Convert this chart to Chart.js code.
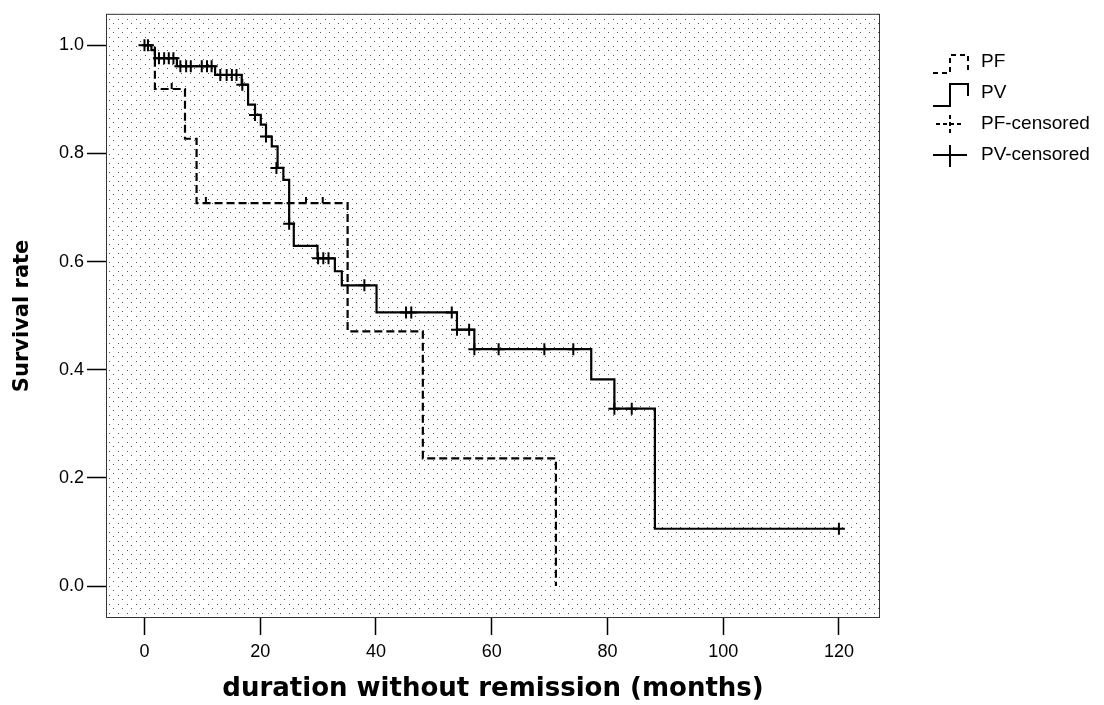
<!DOCTYPE html>
<html>
<head>
<meta charset="utf-8">
<script src="https://cdn.jsdelivr.net/npm/chart.js@4.4.1/dist/chart.umd.min.js"></script>
<style>
  html, body { margin: 0; padding: 0; background: #ffffff; }
  #wrap { width: 1104px; height: 705px; position: relative; }
  canvas { display: block; }
</style>
</head>
<body>
<div id="wrap"><canvas id="c" width="1104" height="705"></canvas></div>
<script>
// ---- data ----
const pvTimes = [0, 1.2, 1.8, 5.6, 12.2, 16.8, 17.9, 19.1, 20.1, 21.0, 22.0, 23.0, 24.0, 25.0, 25.8, 29.9, 32.9, 34.1, 40.1, 54.0, 57.0, 77.2, 81.2, 88.2, 120.0];
const pvSurv  = [1.0, 0.991, 0.976, 0.961, 0.945, 0.927, 0.890, 0.871, 0.853, 0.831, 0.813, 0.773, 0.751, 0.670, 0.629, 0.606, 0.582, 0.556, 0.506, 0.474, 0.438, 0.382, 0.328, 0.106, 0.106];

const pfTimes = [0, 1.8, 7.0, 9.0, 35.1, 48.1, 71.1];
const pfSurv  = [1.0, 0.919, 0.827, 0.708, 0.471, 0.236, 0.0];

const pvCensorTimes = [0, 0.6, 2.5, 3.4, 4.2, 5.0, 6.2, 7.2, 8.0, 9.9, 10.8, 11.6, 13.1, 14.2, 15.1, 15.9, 16.9, 19.1, 21.0, 22.8, 25.0, 30.0, 30.9, 31.8, 38.0, 45.2, 46.1, 53.1, 54.0, 56.1, 57.0, 61.2, 69.1, 74.1, 81.2, 84.2, 120.0];
const pvCensorSurv  = [1.0, 1.0, 0.976, 0.976, 0.976, 0.976, 0.961, 0.961, 0.961, 0.961, 0.961, 0.961, 0.945, 0.945, 0.945, 0.945, 0.927, 0.871, 0.831, 0.773, 0.670, 0.606, 0.606, 0.606, 0.556, 0.506, 0.506, 0.506, 0.474, 0.474, 0.438, 0.438, 0.438, 0.438, 0.328, 0.328, 0.106];

const pfCensorTimes = [4.7, 10.6, 27.9, 30.8];
const pfCensorSurv  = [0.919, 0.708, 0.708, 0.708];

const xTickValues = [0, 20, 40, 60, 80, 100, 120];
const xTickLabels = ['0', '20', '40', '60', '80', '100', '120'];
const yTickValues = [0, 0.2, 0.4, 0.6, 0.8, 1.0];
const yTickLabels = ['0.0', '0.2', '0.4', '0.6', '0.8', '1.0'];

const legendLabels = ['PF', 'PV', 'PF-censored', 'PV-censored'];
const xTitle = 'duration without remission (months)';
const yTitle = 'Survival rate';

// ---- helpers ----
function toPoints(xs, ys) { return xs.map((x, i) => ({ x: x, y: ys[i] })); }

// PF censor mark: a small upward tick
const pfMark = document.createElement('canvas');
pfMark.width = 12; pfMark.height = 12;
(function () {
  const g = pfMark.getContext('2d');
  g.fillStyle = '#000';
  g.fillRect(5, 0, 2, 6);
})();

// dotted background tile
const tile = document.createElement('canvas');
tile.width = 9; tile.height = 9;
(function () {
  const g = tile.getContext('2d');
  g.fillStyle = '#ffffff';
  g.fillRect(0, 0, 9, 9);
  g.fillStyle = '#555555';
  g.fillRect(1, 1, 1, 1);
  g.fillRect(5, 5, 1, 1);
})();

const bgPlugin = {
  id: 'bgPlugin',
  beforeDatasetsDraw(chart) {
    const { ctx, chartArea: a } = chart;
    ctx.save();
    const pat = ctx.createPattern(tile, 'repeat');
    ctx.fillStyle = pat;
    ctx.fillRect(a.left, a.top, a.right - a.left, a.bottom - a.top);
    ctx.restore();
  },
  afterDatasetsDraw(chart) {
    const { ctx, chartArea: a } = chart;
    ctx.save();
    ctx.strokeStyle = '#333333';
    ctx.lineWidth = 1;
    ctx.strokeRect(a.left + 0.5, a.top + 0.5, a.right - a.left - 1, a.bottom - a.top - 1);
    ctx.restore();
  }
};

const legendPlugin = {
  id: 'kmLegend',
  afterDraw(chart) {
    const ctx = chart.ctx;
    const a = chart.chartArea;
    const x0 = a.right + 53;           // symbol left
    const tx = a.right + 101;          // text left
    const rows = [62, 93, 124, 155];
    ctx.save();
    ctx.strokeStyle = '#000';
    ctx.lineWidth = 2;
    // PF step symbol (dashed)
    ctx.setLineDash([5, 4]);
    ctx.beginPath();
    ctx.moveTo(x0, 73); ctx.lineTo(x0 + 17, 73); ctx.lineTo(x0 + 17, 55);
    ctx.lineTo(x0 + 35, 55); ctx.lineTo(x0 + 35, 74);
    ctx.stroke();
    // PV step symbol (solid)
    ctx.setLineDash([]);
    ctx.beginPath();
    ctx.moveTo(x0, 106); ctx.lineTo(x0 + 17, 106); ctx.lineTo(x0 + 17, 84);
    ctx.lineTo(x0 + 35, 84); ctx.lineTo(x0 + 35, 96);
    ctx.stroke();
    // PF-censored (dashed cross)
    ctx.setLineDash([4, 3]);
    ctx.beginPath();
    ctx.moveTo(x0 + 3, 124); ctx.lineTo(x0 + 31, 124);
    ctx.moveTo(x0 + 17, 115); ctx.lineTo(x0 + 17, 134);
    ctx.stroke();
    // PV-censored (solid cross)
    ctx.setLineDash([]);
    ctx.beginPath();
    ctx.moveTo(x0, 155); ctx.lineTo(x0 + 34, 155);
    ctx.moveTo(x0 + 17, 145); ctx.lineTo(x0 + 17, 167);
    ctx.stroke();
    // texts
    ctx.fillStyle = '#000';
    ctx.font = '19px "Liberation Sans", Arial, sans-serif';
    ctx.textAlign = 'left';
    ctx.textBaseline = 'middle';
    legendLabels.forEach((t, i) => ctx.fillText(t, tx, rows[i]));
    ctx.restore();
  }
};

const tickFont = { family: '"Liberation Sans", Arial, sans-serif', size: 18 };

new Chart(document.getElementById('c'), {
  type: 'scatter',
  data: {
    datasets: [
      {
        label: 'PV-censored',
        data: toPoints(pvCensorTimes, pvCensorSurv),
        showLine: false,
        pointStyle: 'cross',
        pointRadius: 6,
        pointBorderWidth: 2,
        pointBorderColor: '#000',
        pointBackgroundColor: '#000'
      },
      {
        label: 'PF-censored',
        data: toPoints(pfCensorTimes, pfCensorSurv),
        showLine: false,
        pointStyle: pfMark,
        pointRadius: 6
      },
      {
        label: 'PV',
        data: toPoints(pvTimes, pvSurv),
        showLine: true,
        stepped: true,
        borderColor: '#000',
        borderWidth: 2.2,
        pointRadius: 0,
        fill: false
      },
      {
        label: 'PF',
        data: toPoints(pfTimes, pfSurv),
        showLine: true,
        stepped: true,
        borderColor: '#000',
        borderWidth: 2.2,
        borderDash: [8, 4],
        pointRadius: 0,
        fill: false
      }
    ]
  },
  options: {
    responsive: false,
    animation: false,
    events: [],
    layout: { padding: { top: 12, right: 224, left: 0, bottom: 0 } },
    plugins: {
      legend: { display: false },
      tooltip: { enabled: false }
    },
    scales: {
      x: {
        type: 'linear',
        min: -6.65,
        max: 127.1,
        afterBuildTicks: (s) => { s.ticks = xTickValues.map(v => ({ value: v })); },
        afterFit: (s) => { s.height = 87; },
        ticks: {
          color: '#000',
          font: tickFont,
          padding: 6,
          maxRotation: 0,
          callback: (v) => xTickLabels[xTickValues.indexOf(v)]
        },
        grid: {
          drawOnChartArea: false,
          drawTicks: true,
          tickLength: 17,
          tickWidth: 1.5,
          tickColor: '#000'
        },
        border: { display: false },
        title: {
          display: true,
          text: xTitle,
          color: '#000',
          font: { family: '"DejaVu Sans", Verdana, sans-serif', size: 26, weight: 'bold' },
          padding: { top: 0, bottom: 0 }
        }
      },
      y: {
        type: 'linear',
        min: -0.059,
        max: 1.058,
        afterBuildTicks: (s) => { s.ticks = yTickValues.map(v => ({ value: v })); },
        afterFit: (s) => { s.width = 106; },
        ticks: {
          color: '#000',
          font: tickFont,
          padding: 3,
          callback: (v) => yTickLabels[yTickValues.indexOf(v)]
        },
        grid: {
          drawOnChartArea: false,
          drawTicks: true,
          tickLength: 19,
          tickWidth: 1.5,
          tickColor: '#000'
        },
        border: { display: false },
        title: {
          display: true,
          text: yTitle,
          color: '#000',
          font: { family: '"DejaVu Sans", Verdana, sans-serif', size: 21, weight: 'bold' },
          padding: { top: 10, bottom: 0 }
        }
      }
    }
  },
  plugins: [bgPlugin, legendPlugin]
});
</script>
</body>
</html>
